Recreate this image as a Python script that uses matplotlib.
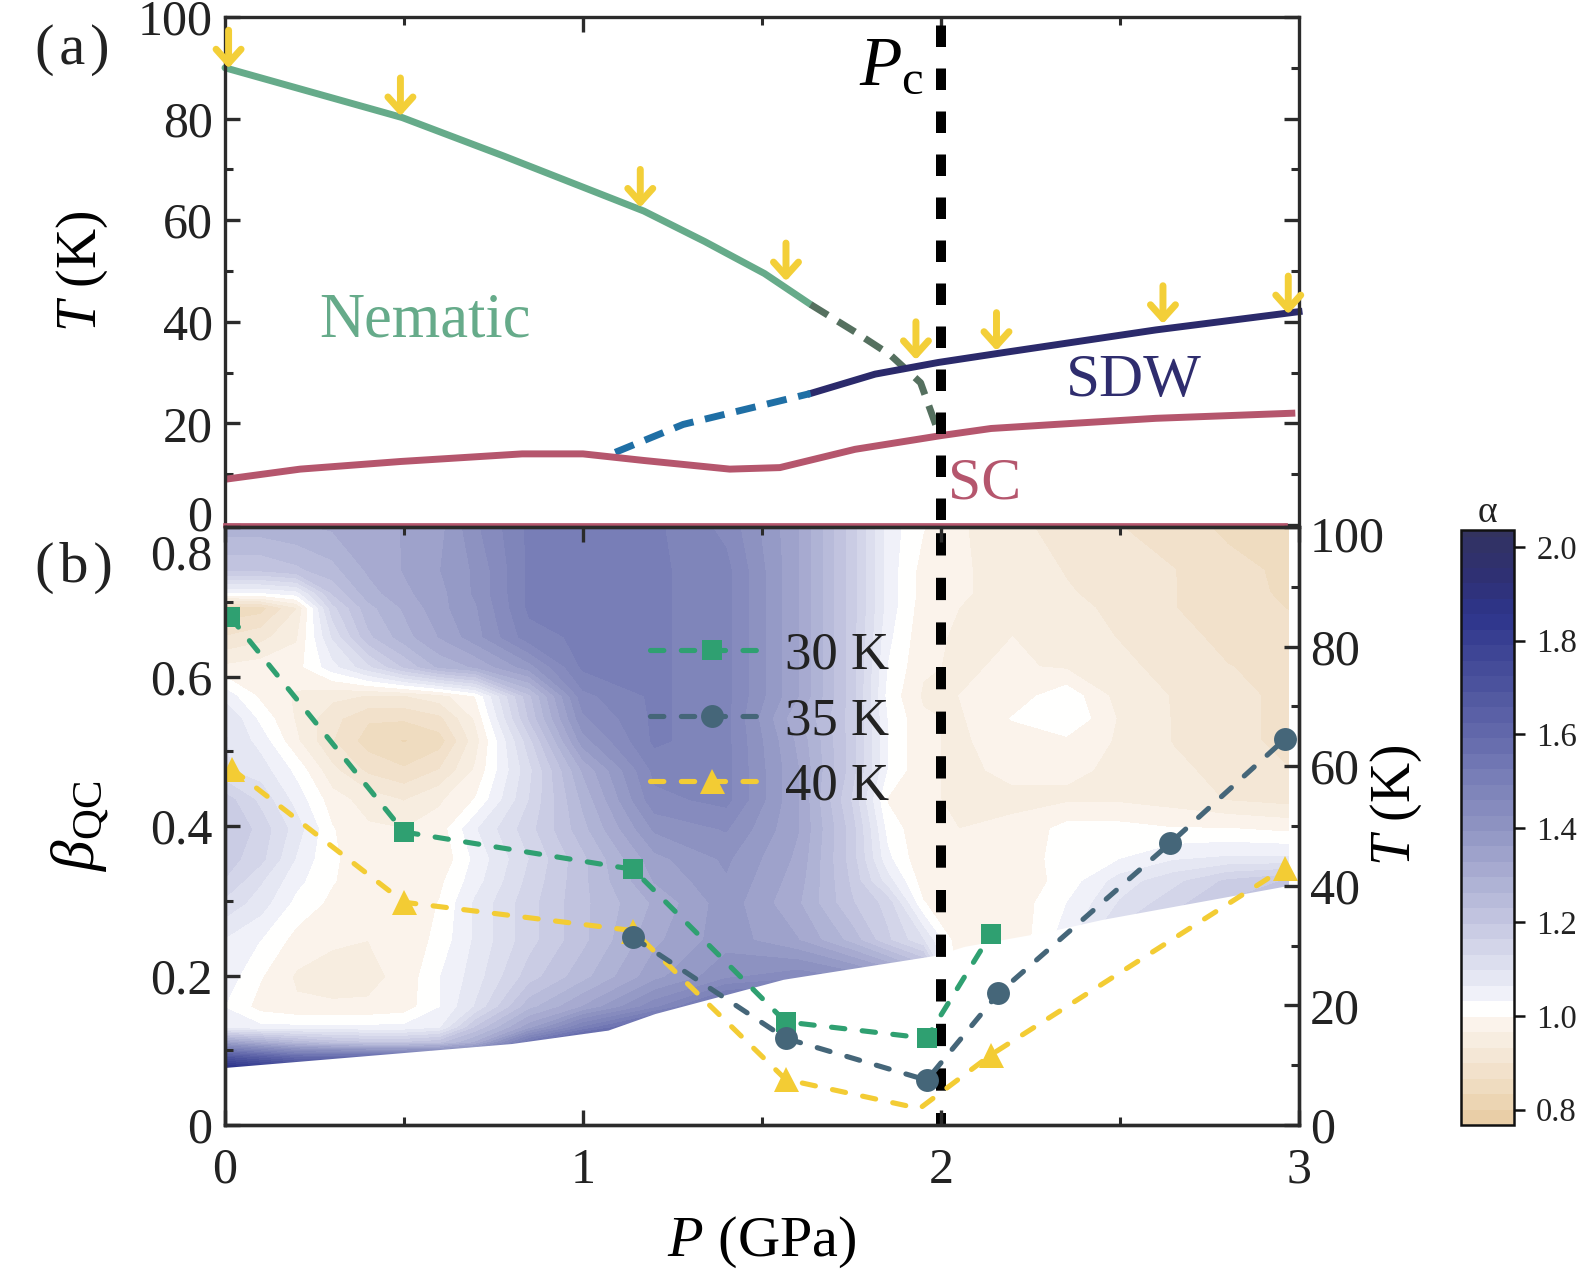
import numpy as np
import matplotlib
matplotlib.use("Agg")
import matplotlib.pyplot as plt
from matplotlib.colors import LinearSegmentedColormap
from matplotlib.legend_handler import HandlerLine2D
from matplotlib.transforms import ScaledTranslation

plt.rcParams['font.family'] = ['Liberation Serif', 'DejaVu Serif']
plt.rcParams['mathtext.fontset'] = 'custom'
plt.rcParams['mathtext.rm'] = 'Liberation Serif'
plt.rcParams['mathtext.it'] = 'Liberation Serif:italic'
plt.rcParams['mathtext.bf'] = 'Liberation Serif:bold'
plt.rcParams['mathtext.fallback'] = 'stix'

# Panel (a) phase lines
nem_P = [0, 0.495, 0.776, 1.17, 1.34, 1.507, 1.636]
nem_T = [90, 80.2, 72.7, 61.8, 55.8, 49.5, 43.4]
nem_d_P = [1.636, 1.76, 1.858, 1.943, 1.993]
nem_d_T = [43.4, 38, 33.5, 28, 18.2]
sdw_P = [1.636, 1.816, 1.993, 2.18, 2.6, 3.0]
sdw_T = [25.9, 29.7, 32, 34, 38.4, 42]
sdw_d_P = [1.09, 1.28, 1.636]
sdw_d_T = [14.3, 19.8, 25.9]
sc_P = [0, 0.21, 0.49, 0.83, 1.0, 1.17, 1.41, 1.55, 1.76, 2.0, 2.14, 2.32, 2.6, 2.98]
sc_T = [9, 11, 12.5, 14, 14, 12.7, 11, 11.3, 14.9, 17.6, 19, 19.8, 21, 22]
arrow_P = [0.01, 0.49, 1.16, 1.567, 1.93, 2.155, 2.62, 2.97]
arrow_T = [89.9, 80.5, 62.5, 48, 32.5, 34.3, 39.6, 41.5]

# Panel (b) series
p30 = [0.014, 0.5, 1.14, 1.566, 1.96, 2.14]
b30 = [0.68, 0.392, 0.342, 0.138, 0.116, 0.256]
p35 = [1.14, 1.566, 1.96, 2.16, 2.64, 2.96]
b35 = [0.251, 0.116, 0.06, 0.176, 0.377, 0.516]
p40 = [0.02, 0.5, 1.14, 1.566, 1.94, 2.14, 2.96]
b40 = [0.476, 0.298, 0.26, 0.061, 0.022, 0.094, 0.344]

# Lower edge of the alpha map
edge_P = [0, 0.8, 1.07, 1.2, 1.56, 1.985, 2.065, 2.30, 2.45, 2.965, 3.0]
edge_b = [0.077, 0.109, 0.127, 0.149, 0.195, 0.227, 0.239, 0.259, 0.275, 0.32, 0.32]

# alpha map
grid_P = [0, .1, .2, .3, .4, .5, .6, .7, .85, 1.0, 1.2, 1.4, 1.6, 1.75, 1.85, 1.95, 2.05, 2.2, 2.35, 2.5, 2.65, 2.8, 2.97]
grid_b = [.07, .09, .11, .13, .158, .198, .247, .297, .326, .356, .396, .435, .475, .514, .544, .574, .613, .653, .692, .712, .742, .80]
alpha = [
 [1.95,1.9,1.85,1.8,1.8,1.8,1.8,1.8,1.8,1.8,1.8,1.8,1.7,1.6,1.5,1.4,1.0,1.0,1.0,1.0,1.0,1.0,1.0],
 [1.7,1.65,1.6,1.6,1.6,1.6,1.6,1.6,1.7,1.8,1.8,1.8,1.7,1.6,1.5,1.4,1.0,1.0,1.0,1.0,1.0,1.0,1.0],
 [1.35,1.3,1.25,1.22,1.2,1.2,1.22,1.3,1.55,1.7,1.75,1.75,1.7,1.6,1.5,1.4,1.0,1.0,1.0,1.0,1.0,1.0,1.0],
 [1.05,1.04,1.04,1.04,1.04,1.04,1.06,1.2,1.35,1.5,1.65,1.7,1.65,1.6,1.5,1.4,1.0,1.0,1.0,1.0,1.0,1.0,1.0],
 [1.03,.985,.97,.97,.97,.98,1.03,1.1,1.25,1.33,1.45,1.58,1.6,1.55,1.45,1.35,1.0,1.0,1.0,1.0,1.0,1.0,1.0],
 [1.05,1.0,.96,.95,.955,.975,1.03,1.08,1.18,1.25,1.35,1.42,1.45,1.42,1.38,1.3,.97,.97,1.0,1.0,1.0,1.0,1.0],
 [1.06,1.03,.985,.97,.965,.97,1.01,1.07,1.15,1.22,1.32,1.38,1.33,1.25,1.17,1.1,.97,.97,1.05,1.15,1.2,1.25,1.3],
 [1.12,1.08,1.02,.99,.97,.97,1.0,1.07,1.15,1.22,1.3,1.38,1.3,1.2,1.15,1.0,.97,.975,1.03,1.1,1.15,1.2,1.25],
 [1.16,1.1,1.04,1.0,.98,.97,.99,1.05,1.14,1.22,1.33,1.39,1.31,1.19,1.08,.98,.97,.975,1.01,1.08,1.12,1.17,1.2],
 [1.18,1.14,1.06,1.0,.99,.97,.97,1.04,1.13,1.22,1.35,1.4,1.32,1.18,1.04,.97,.965,.98,1.01,1.03,1.06,1.07,1.07],
 [1.2,1.15,1.08,1.0,.97,.965,.98,1.06,1.15,1.25,1.4,1.43,1.33,1.18,1.02,.97,.965,.97,1.01,1.01,1.0,1.0,.99],
 [1.18,1.12,1.05,.98,.95,.93,.96,1.0,1.13,1.27,1.45,1.47,1.33,1.16,.995,.97,.96,.96,.96,.96,.95,.93,.92],
 [1.1,1.08,1.02,.94,.89,.87,.9,.97,1.12,1.3,1.47,1.47,1.33,1.18,1.03,.97,.96,.97,.97,.96,.94,.92,.9],
 [1.1,1.05,.97,.9,.85,.83,.85,.95,1.15,1.38,1.5,1.47,1.32,1.18,1.03,.97,.96,.98,.99,.96,.93,.91,.89],
 [1.1,1.02,.96,.91,.87,.87,.89,.97,1.2,1.42,1.5,1.47,1.3,1.18,1.03,.97,.96,1.0,1.03,.96,.93,.91,.89],
 [1.05,.99,.96,.94,.93,.93,.95,1.0,1.22,1.45,1.5,1.47,1.33,1.18,1.02,.96,.965,.98,1.02,.95,.93,.91,.89],
 [.97,.98,.985,1.05,1.12,1.2,1.27,1.3,1.38,1.5,1.5,1.47,1.33,1.18,1.03,.97,.96,.97,.96,.94,.92,.9,.89],
 [.9,.92,.96,1.1,1.22,1.28,1.33,1.38,1.48,1.5,1.5,1.47,1.33,1.18,1.04,.975,.96,.965,.95,.93,.91,.89,.875],
 [.84,.85,.93,1.15,1.25,1.3,1.35,1.39,1.5,1.5,1.5,1.47,1.33,1.18,1.05,.98,.965,.955,.94,.925,.9,.88,.865],
 [1.03,1.03,1.05,1.2,1.28,1.32,1.35,1.4,1.5,1.5,1.5,1.47,1.33,1.18,1.05,.985,.97,.95,.935,.92,.9,.88,.86],
 [1.2,1.2,1.22,1.25,1.3,1.33,1.36,1.4,1.5,1.5,1.5,1.47,1.33,1.18,1.05,.985,.97,.95,.93,.92,.9,.875,.86],
 [1.28,1.28,1.29,1.3,1.31,1.33,1.35,1.42,1.5,1.5,1.5,1.45,1.33,1.18,1.05,1.0,.97,.94,.92,.9,.88,.86,.85],
]

GREEN, TEAL, YELLOW = '#2fa071', '#456679', '#f3cc34'
INK = '#2b2b2b'
W, H = 1577, 1270
fig = plt.figure(figsize=(W/100, H/100), dpi=100)
def box(l, t, r, b):
    return [l/W, 1-b/H, (r-l)/W, (b-t)/H]
ax_a = fig.add_axes(box(225, 17, 1299, 525))
ax_b = fig.add_axes(box(225, 527, 1299, 1125))
cax = fig.add_axes(box(1461, 530, 1514, 1125))

FS = 36
def style(ax):
    for s in ax.spines.values():
        s.set_linewidth(2.4); s.set_color(INK)
    ax.tick_params(which='major', direction='in', length=11, width=2.4, color=INK, labelsize=FS, labelcolor='#222222')
    ax.tick_params(which='minor', direction='in', length=6, width=2.2, color=INK)

def nudge(label, px_down):
    """Move one tick label vertically, as the reference does at the panel seam."""
    label.set_va('center')
    label.set_transform(label.get_transform() + ScaledTranslation(0, -px_down/100, fig.dpi_scale_trans))

# panel a
ax_a.plot(nem_P, nem_T, color='#66ab8a', lw=5, solid_capstyle='round', clip_on=False)
ax_a.plot(nem_d_P, nem_d_T, color='#55705f', lw=5, ls=(0, (2.9, 1.7)), dash_capstyle='butt')
ax_a.plot(sdw_P, sdw_T, color='#2b2a6b', lw=5, clip_on=False, solid_capstyle='projecting')
ax_a.plot(sdw_d_P, sdw_d_T, color='#1f6fa5', lw=5, ls=(0, (2.9, 1.7)), dash_capstyle='butt')
ax_a.plot(sc_P, sc_T, color='#b5566d', lw=5)
ax_a.plot([0, 2.96], [0, 0], color='#b5566d', lw=3.4, clip_on=False, zorder=4)
ax_a.axvline(2, color='black', lw=7.2, ls=(3.8, (2.15, 2.15)), dash_capstyle='butt', zorder=3)
for p, t in zip(arrow_P, arrow_T):
    ax_a.annotate('', xy=(p, t), xytext=(p, t+7.5), zorder=6,
                  arrowprops=dict(arrowstyle='->,head_length=0.5,head_width=0.45', lw=5, color='#f3cf38',
                                  shrinkA=0, shrinkB=0, mutation_scale=20))
ax_a.set_xlim(0, 3); ax_a.set_ylim(0, 100)
style(ax_a)
ax_a.spines['bottom'].set_visible(False)
ax_a.set_xticks([1, 2]); ax_a.set_xticklabels([])
ax_a.set_xticks([0.5, 1.5, 2.5], minor=True)
ax_a.tick_params(axis='x', which='both', bottom=False, top=True)
ax_a.set_yticks(range(0, 101, 20)); ax_a.set_yticks(range(10, 100, 20), minor=True)
ax_a.tick_params(axis='y', which='both', right=True)
ax_a.tick_params(axis='y', pad=9)
nudge(ax_a.get_yticklabels()[0], -7)
ax_a.text(0.263, 40, 'Nematic', color='#66ab8a', fontsize=45, va='center', ha='left')
ax_a.text(2.35, 28.2, 'SDW', color='#2f2d6e', fontsize=44, va='center', ha='left')
ax_a.text(2.02, 8, 'SC', color='#b5566d', fontsize=43, va='center', ha='left')
ax_a.text(1.77, 90, r'$P_{\mathrm{c}}$', color='black', fontsize=50, va='center', ha='left')
ax_a.set_ylabel(r'$T$ (K)', fontsize=40, labelpad=20)
fig.text(35/W, 1-50/H, '(\u200aa\u200a)', fontsize=42, va='center', ha='left', color='#222222')

# panel b
colour_stops = [(0.767, '#e8cba2'), (0.85, '#efdcc0'), (0.92, '#f5e8d8'), (0.985, '#fbf4ec'), (1.0145, '#ffffff'),
                (1.05, '#eeeff8'), (1.2, '#c4c6e1'), (1.4, '#8f94c2'), (1.5, '#7a80b8'), (1.6, '#6369ab'),
                (1.7, '#4d549e'), (1.85, '#2e358c'), (1.95, '#2f3070'), (2.04, '#33335f')]
lo, hi = colour_stops[0][0], colour_stops[-1][0]
cmap = LinearSegmentedColormap.from_list('alpha', [((v-lo)/(hi-lo), c) for v, c in colour_stops], N=512)
levels = np.arange(0.767, 2.07, 0.033)
cs = ax_b.contourf(grid_P, grid_b, np.array(alpha), levels=levels, cmap=cmap, vmin=lo, vmax=hi, zorder=0.5)
ax_b.fill_between(edge_P, 0, edge_b, color='white', lw=0, zorder=0.6)
ax_b.axvline(2, color='black', lw=7.2, ls=(1.03, (2.23, 2.23)), dash_capstyle='butt', zorder=1.2)
line = dict(lw=3.7, ls=(0, (2.6, 3.4)), dash_capstyle='round')
ax_b.plot(p30, b30, color=GREEN, marker='s', ms=14.5, mew=0, label='30 K', zorder=3.1, **line)
ax_b.plot(p35, b35, color=TEAL, marker='o', ms=16.5, mew=0, label='35 K', zorder=3.2, **line)
ax_b.plot(p40, b40, color=YELLOW, marker='^', ms=18, mew=0, label='40 K', zorder=3,
          markevery=[0, 1, 2, 3, 5, 6], **line)
ax_b.set_xlim(0, 3); ax_b.set_ylim(0, 0.8)
style(ax_b)
ax_b.set_xticks([0, 1, 2, 3]); ax_b.set_xticks([0.5, 1.5, 2.5], minor=True)
ax_b.set_yticks([0, .2, .4, .6, .8]); ax_b.set_yticklabels(['0', '0.2', '0.4', '0.6', '0.8'])
ax_b.set_yticks([.1, .3, .5, .7], minor=True)
ax_b.tick_params(axis='x', which='both', top=True)
ax_b.tick_params(axis='x', pad=16)
ax_b.tick_params(axis='y', pad=9)
nudge(ax_b.get_yticklabels()[-1], 30)
ax_b.set_xlabel(r'$P$ (GPa)', fontsize=42, labelpad=15)
ax_b.set_ylabel(r'$\beta_{\mathrm{QC}}$', fontsize=44, labelpad=28)
fig.text(35/W, 1-568/H, '(\u200ab\u200a)', fontsize=42, va='center', ha='left', color='#222222')

class OffsetMarkerHandler(HandlerLine2D):
    def create_artists(self, legend, orig_handle, xdescent, ydescent, width, height, fontsize, trans):
        artists = super().create_artists(legend, orig_handle, xdescent, ydescent, width, height, fontsize, trans)
        xs = np.array(artists[0].get_xdata(), dtype=float)
        xs[1] += 6.5
        artists[0].set_xdata(xs)
        return artists

ax_b.legend(loc='upper left', bbox_to_anchor=(0.396, 0.825), frameon=False, fontsize=38,
            handlelength=2.0, handletextpad=0.56, labelspacing=0.33, borderpad=0, borderaxespad=0,
            numpoints=1, labelcolor='#222222', handler_map={matplotlib.lines.Line2D: OffsetMarkerHandler()})

ax_r = ax_b.twinx()
ax_r.set_ylim(0, 100)
ax_r.patch.set_visible(False)
style(ax_r)
ax_r.set_yticks(range(0, 101, 20)); ax_r.set_yticks(range(10, 100, 20), minor=True)
ax_r.tick_params(axis='y', pad=8)
nudge(ax_r.get_yticklabels()[-1], 12)
ax_r.set_ylabel(r'$T$ (K)', fontsize=40, labelpad=-12)
ax_r.yaxis.label.set_y(0.535)

# colour bar
cb = fig.colorbar(cs, cax=cax, drawedges=False)
cax.set_ylim(lo, 2.036)
cb.set_ticks([0.8, 1.0, 1.2, 1.4, 1.6, 1.8, 2.0])
cb.ax.minorticks_off()
cax.tick_params(length=8, width=1.8, labelsize=23.5, direction='out', color='#111111', pad=8, labelcolor='#222222')
cb.outline.set_linewidth(1.8); cb.outline.set_edgecolor('#111111')
cax.set_title('α', fontsize=27, pad=2, color='#222222')

fig.savefig('out.png', dpi=100)
